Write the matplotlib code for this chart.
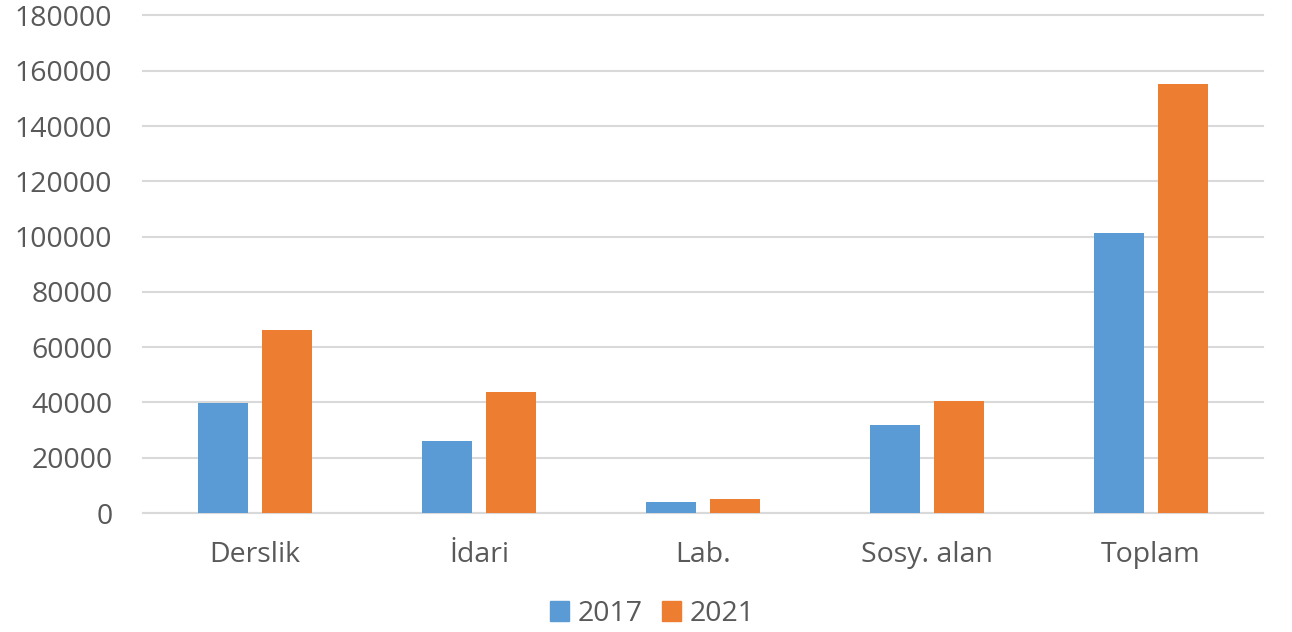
import numpy as np
import matplotlib
matplotlib.use("Agg")
from matplotlib import pyplot as plt
from matplotlib.patches import Patch

categories = ["Derslik", "İdari", "Lab.", "Sosy. alan", "Toplam"]
years = ["2017", "2021"]
values_2017 = [39800, 26100, 4000, 31900, 101200]
values_2021 = [66200, 43800, 5100, 40600, 155200]

blue = "#5B9BD5"
orange = "#ED7D31"
grey_text = "#595959"

plt.rcParams["font.family"] = ["Open Sans", "DejaVu Sans"]

fig = plt.figure(figsize=(12.92, 6.32), dpi=100)
ax = fig.add_axes([143 / 1292, (632 - 513) / 632, 1120 / 1292, 497.5 / 632])

x = np.arange(len(categories))
w = 0.223
off = 0.143
ax.bar(x - off, values_2017, w, color=blue, zorder=3)
ax.bar(x + off, values_2021, w, color=orange, zorder=3)

ax.set_xlim(-0.5, len(categories) - 0.5)
ax.set_ylim(0, 180000)
ax.set_yticks(np.arange(0, 180001, 20000))
ax.grid(axis="y", color="#D9D9D9", linewidth=1.5, zorder=0)
ax.set_axisbelow(True)
for line in ax.get_ygridlines():
    line.set_clip_on(False)
for s in ["top", "right", "left"]:
    ax.spines[s].set_visible(False)
ax.spines["bottom"].set_color("#D9D9D9")
ax.spines["bottom"].set_linewidth(1.5)

ax.set_xticks(x)
ax.set_xticklabels(categories)
ax.tick_params(axis="both", length=0, labelsize=20.5, labelcolor=grey_text)
ax.tick_params(axis="x", pad=20)
ax.tick_params(axis="y", pad=22)

handles = [Patch(color=blue, label=years[0]), Patch(color=orange, label=years[1])]
fig.legend(handles=handles, loc="center", bbox_to_anchor=(0.505, 1 - 614 / 632),
           ncol=2, frameon=False, fontsize=20.5, labelcolor=grey_text,
           handlelength=0.65, handleheight=0.65, handletextpad=0.3, columnspacing=0.7)

fig.savefig("out.png", dpi=100)
